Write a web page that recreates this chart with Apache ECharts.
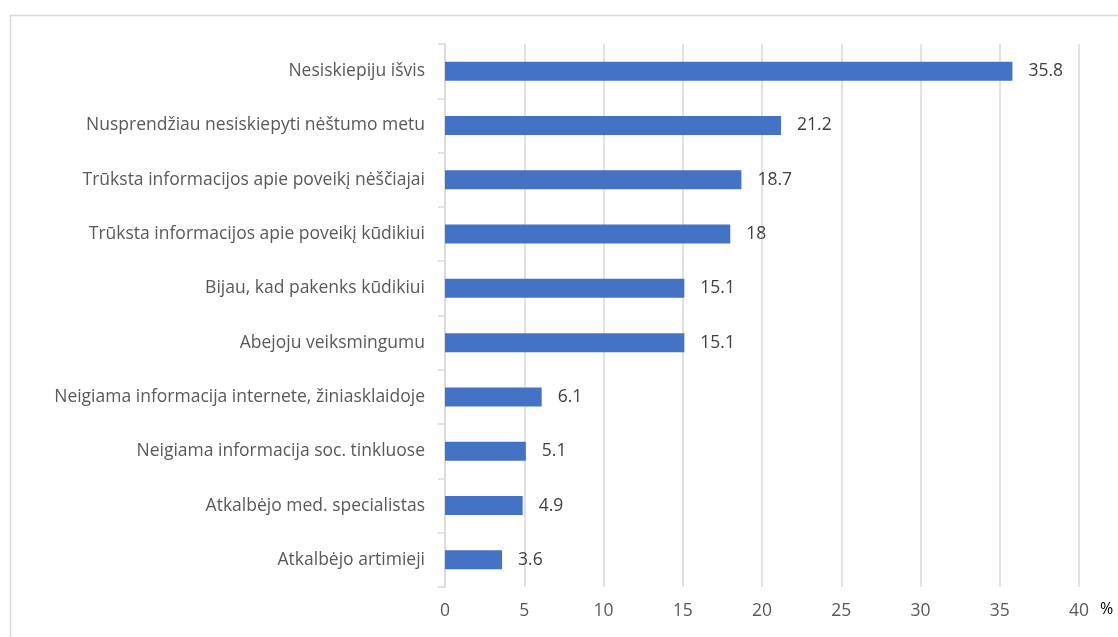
<!DOCTYPE html>
<html>
<head>
<meta charset="utf-8">
<script src="https://cdn.jsdelivr.net/npm/echarts@6/dist/echarts.min.js"></script>
<style>
  html, body { margin: 0; padding: 0; background: #fff; }
  #chart { width: 1118px; height: 637px; }
</style>
</head>
<body>
<div id="chart"></div>
<script>
'use strict';

// kategorijos (iš viršaus į apačią)
const categories = [
    'Nesiskiepiju išvis',
    'Nusprendžiau nesiskiepyti nėštumo metu',
    'Trūksta informacijos apie poveikį nėščiajai',
    'Trūksta informacijos apie poveikį kūdikiui',
    'Bijau, kad pakenks kūdikiui',
    'Abejoju veiksmingumu',
    'Neigiama informacija internete, žiniasklaidoje',
    'Neigiama informacija soc. tinkluose',
    'Atkalbėjo med. specialistas',
    'Atkalbėjo artimieji'
];
const values = [35.8, 21.2, 18.7, 18, 15.1, 15.1, 6.1, 5.1, 4.9, 3.6];
const xTicks = [0, 5, 10, 15, 20, 25, 30, 35, 40];
const unitLabel = '%';

const fontName = '"Open Sans", "Liberation Sans", sans-serif';
const fontSize = 17.5;

let myChart = echarts.init(document.getElementById('chart'));

myChart.setOption({
    animation: false,
    backgroundColor: '#fff',
    graphic: [{
        type: 'rect',
        shape: { x: 10.5, y: 15.5, width: 1200, height: 700 },
        style: { fill: 'none', stroke: '#d9d9d9', lineWidth: 1.5 },
        silent: true
    }, {
        type: 'text',
        left: 1100,
        top: 601,
        style: { text: unitLabel, fill: '#000', font: '16px ' + fontName }
    }],
    grid: {
        left: 445,
        right: 39,
        top: 44,
        bottom: 50,
        containLabel: false
    },
    xAxis: {
        type: 'value',
        min: xTicks[0],
        max: xTicks[xTicks.length - 1],
        interval: 5,
        axisLine: { show: false },
        axisTick: { show: false },
        axisLabel: {
            color: '#595959',
            fontSize: fontSize,
            fontFamily: fontName,
            margin: 15
        },
        splitLine: { lineStyle: { color: '#d9d9d9', width: 1.5 } }
    },
    yAxis: {
        type: 'category',
        inverse: true,
        data: categories,
        axisLine: { lineStyle: { color: '#d9d9d9', width: 1.5 } },
        axisTick: { show: true, length: 7, lineStyle: { color: '#d9d9d9', width: 1.5 } },
        axisLabel: {
            color: '#595959',
            fontSize: fontSize,
            fontFamily: fontName,
            margin: 20
        }
    },
    series: [{
        type: 'bar',
        data: values,
        barWidth: 19,
        itemStyle: { color: '#4472c4' },
        label: {
            show: true,
            position: 'right',
            distance: 16,
            color: '#404040',
            fontSize: fontSize,
            fontFamily: fontName
        }
    }]
});
</script>
</body>
</html>
